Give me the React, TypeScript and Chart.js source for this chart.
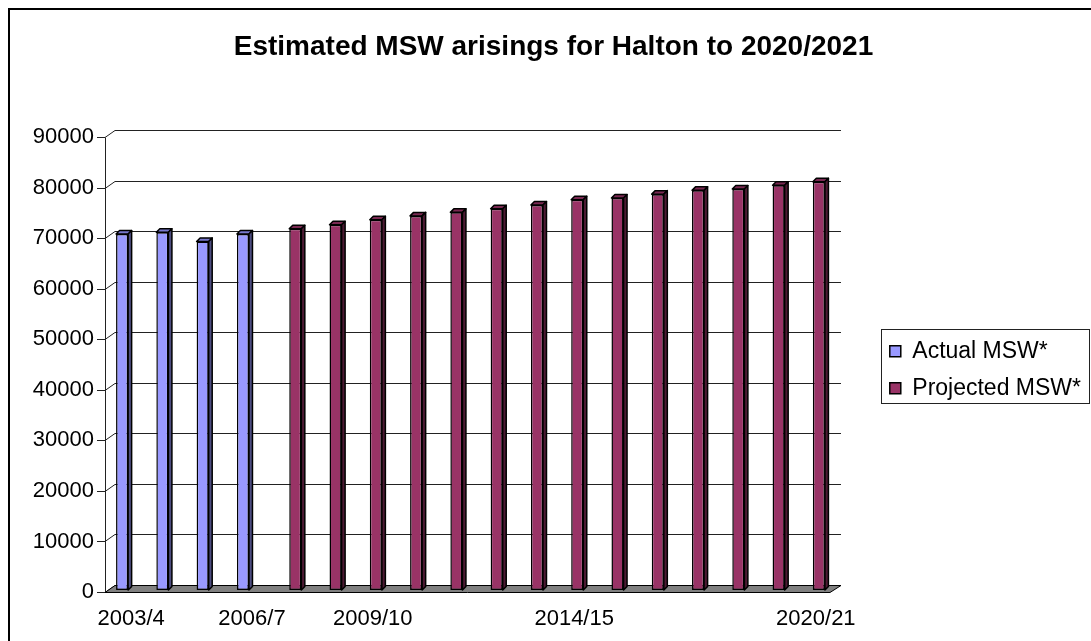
import React, { useEffect, useRef } from 'react';
import { Chart, registerables } from 'chart.js';

Chart.register(...registerables);

const titleText = 'Estimated MSW arisings for Halton to 2020/2021';

const categories = [
  '2003/4', '2004/5', '2005/6', '2006/7', '2007/8', '2008/9', '2009/10', '2010/11', '2011/12',
  '2012/13', '2013/14', '2014/15', '2015/16', '2016/17', '2017/18', '2018/19', '2019/20', '2020/21',
];

const shownLabels = ['2003/4', '2006/7', '2009/10', '2014/15', '2020/21'];

const actualMSW = [
  70400, 70750, 68950, 70400, null, null, null, null, null,
  null, null, null, null, null, null, null, null, null,
];

const projectedMSW = [
  null, null, null, null, 71450, 72250, 73250, 74000, 74700,
  75400, 76150, 77200, 77550, 78300, 79050, 79300, 80050, 80750,
];

const seriesNames = ['Actual MSW*', 'Projected MSW*'];

const yMin = 0;
const yMax = 90000;
const yStep = 10000;

const FONT = '"Liberation Sans", Arial, sans-serif';

const faceColors = [
  { front: '#9999FF', top: '#7777CC', side: '#4D4D80' },
  { front: '#993366', top: '#7A2952', side: '#4D1A33' },
];

const LEGEND_GAP = 42.8;

const threeD = {
  id: 'threeD',
  afterLayout(chart: any) {
    // leave room between the plot and the legend
    const x = chart.scales.x;
    x.right -= LEGEND_GAP;
    x.width -= LEGEND_GAP;
    x.configure();
    chart.chartArea.right -= LEGEND_GAP;
    chart.chartArea.width -= LEGEND_GAP;
  },
  beforeDraw(chart: any) {
    const ctx = chart.ctx;
    ctx.save();
    ctx.fillStyle = '#000';
    ctx.fillRect(8, 8, 2, chart.height);
    ctx.fillRect(8, 8, chart.width, 2);
    ctx.restore();
  },
  beforeDatasetsDraw(chart: any) {
    const { ctx } = chart;
    const x = chart.scales.x;
    const y = chart.scales.y;
    const L = x.left;
    const R = x.right;
    const F = { dx: -3, dy: 2 };
    const B = { dx: 7, dy: -5 };
    ctx.save();
    ctx.lineWidth = 1;
    ctx.strokeStyle = '#222';
    y.ticks.forEach((t: any) => {
      const py = Math.round(y.getPixelForValue(t.value)) + 0.5;
      ctx.beginPath();
      ctx.moveTo(L + B.dx, py + B.dy);
      ctx.lineTo(R + B.dx + 1, py + B.dy);
      ctx.moveTo(L + F.dx, py + F.dy);
      ctx.lineTo(L + B.dx, py + B.dy);
      ctx.moveTo(L + F.dx - 8, py + F.dy);
      ctx.lineTo(L + F.dx, py + F.dy);
      ctx.stroke();
    });
    const yTop = Math.round(y.getPixelForValue(yMax)) + 0.5;
    const y0 = Math.round(y.getPixelForValue(0)) + 0.5;
    ctx.beginPath();
    ctx.moveTo(Math.round(L + F.dx) + 0.5, yTop + F.dy);
    ctx.lineTo(Math.round(L + F.dx) + 0.5, y0 + F.dy);
    ctx.stroke();
    ctx.beginPath();
    ctx.moveTo(L + F.dx, y0 + F.dy);
    ctx.lineTo(R + F.dx, y0 + F.dy);
    ctx.lineTo(R + B.dx + 1, y0 + B.dy);
    ctx.lineTo(L + B.dx, y0 + B.dy);
    ctx.closePath();
    ctx.fillStyle = '#808080';
    ctx.fill();
    ctx.strokeStyle = '#000';
    ctx.stroke();
    ctx.restore();
  },
  afterDatasetsDraw(chart: any) {
    const { ctx } = chart;
    const d = 3.5;
    ctx.save();
    ctx.lineWidth = 1.5;
    ctx.lineJoin = 'round';
    ctx.strokeStyle = '#000';
    chart.data.datasets.forEach((ds: any, di: number) => {
      const meta = chart.getDatasetMeta(di);
      const col = faceColors[di];
      meta.data.forEach((el: any, i: number) => {
        if (ds.data[i] == null) return;
        const { x, y, base, width } = el.getProps(['x', 'y', 'base', 'width'], true);
        if (!isFinite(y)) return;
        const l = x - width / 2;
        const r = x + width / 2;
        ctx.beginPath();
        ctx.moveTo(l, y);
        ctx.lineTo(l + d, y - d);
        ctx.lineTo(r + d, y - d);
        ctx.lineTo(r, y);
        ctx.closePath();
        ctx.fillStyle = col.top;
        ctx.fill();
        ctx.stroke();
        ctx.beginPath();
        ctx.moveTo(r, y);
        ctx.lineTo(r + d, y - d);
        ctx.lineTo(r + d, base - d);
        ctx.lineTo(r, base);
        ctx.closePath();
        ctx.fillStyle = col.side;
        ctx.fill();
        ctx.stroke();
      });
    });
    ctx.restore();
  },
  afterDraw(chart: any) {
    const lg = chart.legend;
    if (!lg || !lg.legendHitBoxes || !lg.legendHitBoxes.length) return;
    const hb = lg.legendHitBoxes;
    const first = hb[0];
    const last = hb[hb.length - 1];
    let right = 0;
    hb.forEach((h: any) => { right = Math.max(right, h.left + h.width); });
    const x0 = Math.round(first.left - 9) + 0.5;
    const y0 = Math.round(first.top - 11) + 0.5;
    const x1 = Math.min(Math.round(right + 8), chart.width - 1) + 0.5;
    const y1 = Math.round(last.top + last.height + 3) + 0.5;
    const ctx = chart.ctx;
    ctx.save();
    ctx.strokeStyle = '#222';
    ctx.lineWidth = 1;
    ctx.strokeRect(x0, y0, x1 - x0, y1 - y0);
    ctx.restore();
  },
};

export default function App() {
  const canvasRef = useRef<HTMLCanvasElement | null>(null);

  useEffect(() => {
    const canvas = canvasRef.current;
    if (!canvas) return;
    const chart = new Chart(canvas, {
      type: 'bar',
      data: {
        labels: categories,
        datasets: [
          {
            label: seriesNames[0],
            data: actualMSW,
            backgroundColor: faceColors[0].front,
            borderColor: '#000',
            borderWidth: 1.5,
            borderSkipped: false,
            categoryPercentage: 0.6,
            barPercentage: 1.0,
          },
          {
            label: seriesNames[1],
            data: projectedMSW,
            backgroundColor: faceColors[1].front,
            borderColor: '#000',
            borderWidth: 1.5,
            borderSkipped: false,
            categoryPercentage: 0.6,
            barPercentage: 1.0,
          },
        ],
      },
      options: {
        responsive: false,
        animation: false,
        events: [],
        layout: { padding: { left: 16, right: 0, top: 0, bottom: 0 } },
        plugins: {
          title: {
            display: true,
            text: titleText,
            color: '#000',
            font: { family: FONT, size: 28, weight: 'bold' },
            padding: { top: 30.7, bottom: 70.7 },
          },
          legend: {
            position: 'right',
            align: 'center',
            fullSize: false,
            title: { display: true, text: '', padding: 0, font: { size: 12 } },
            labels: {
              boxWidth: 11,
              boxHeight: 11,
              padding: 14,
              color: '#000',
              font: { family: FONT, size: 23 },
            },
          },
          tooltip: { enabled: false },
        },
        scales: {
          x: {
            type: 'category',
            offset: true,
            grid: { display: false, drawTicks: false },
            border: { display: false },
            ticks: {
              autoSkip: false,
              maxRotation: 0,
              minRotation: 0,
              padding: 16,
              labelOffset: 3,
              color: '#000',
              font: { family: FONT, size: 22 },
              callback: (_v: any, i: number) => (shownLabels.includes(categories[i]) ? categories[i] : ''),
            },
            afterFit: (s: any) => { s.height = 51; },
          },
          y: {
            type: 'linear',
            min: yMin,
            max: yMax,
            grid: { display: false, drawTicks: false },
            border: { display: false },
            ticks: {
              stepSize: yStep,
              padding: 14,
              labelOffset: 2,
              color: '#000',
              font: { family: FONT, size: 22 },
              callback: (v: any) => String(v),
            },
            afterFit: (s: any) => { s.width = 92; },
          },
        },
      } as any,
      plugins: [threeD],
    });
    return () => chart.destroy();
  }, []);

  return (
    <div style={{ position: 'fixed', left: 0, top: 0, width: 1091, height: 641, background: '#fff' }}>
      <canvas ref={canvasRef} width={1091} height={641} style={{ display: 'block', width: 1091, height: 641 }} />
    </div>
  );
}
